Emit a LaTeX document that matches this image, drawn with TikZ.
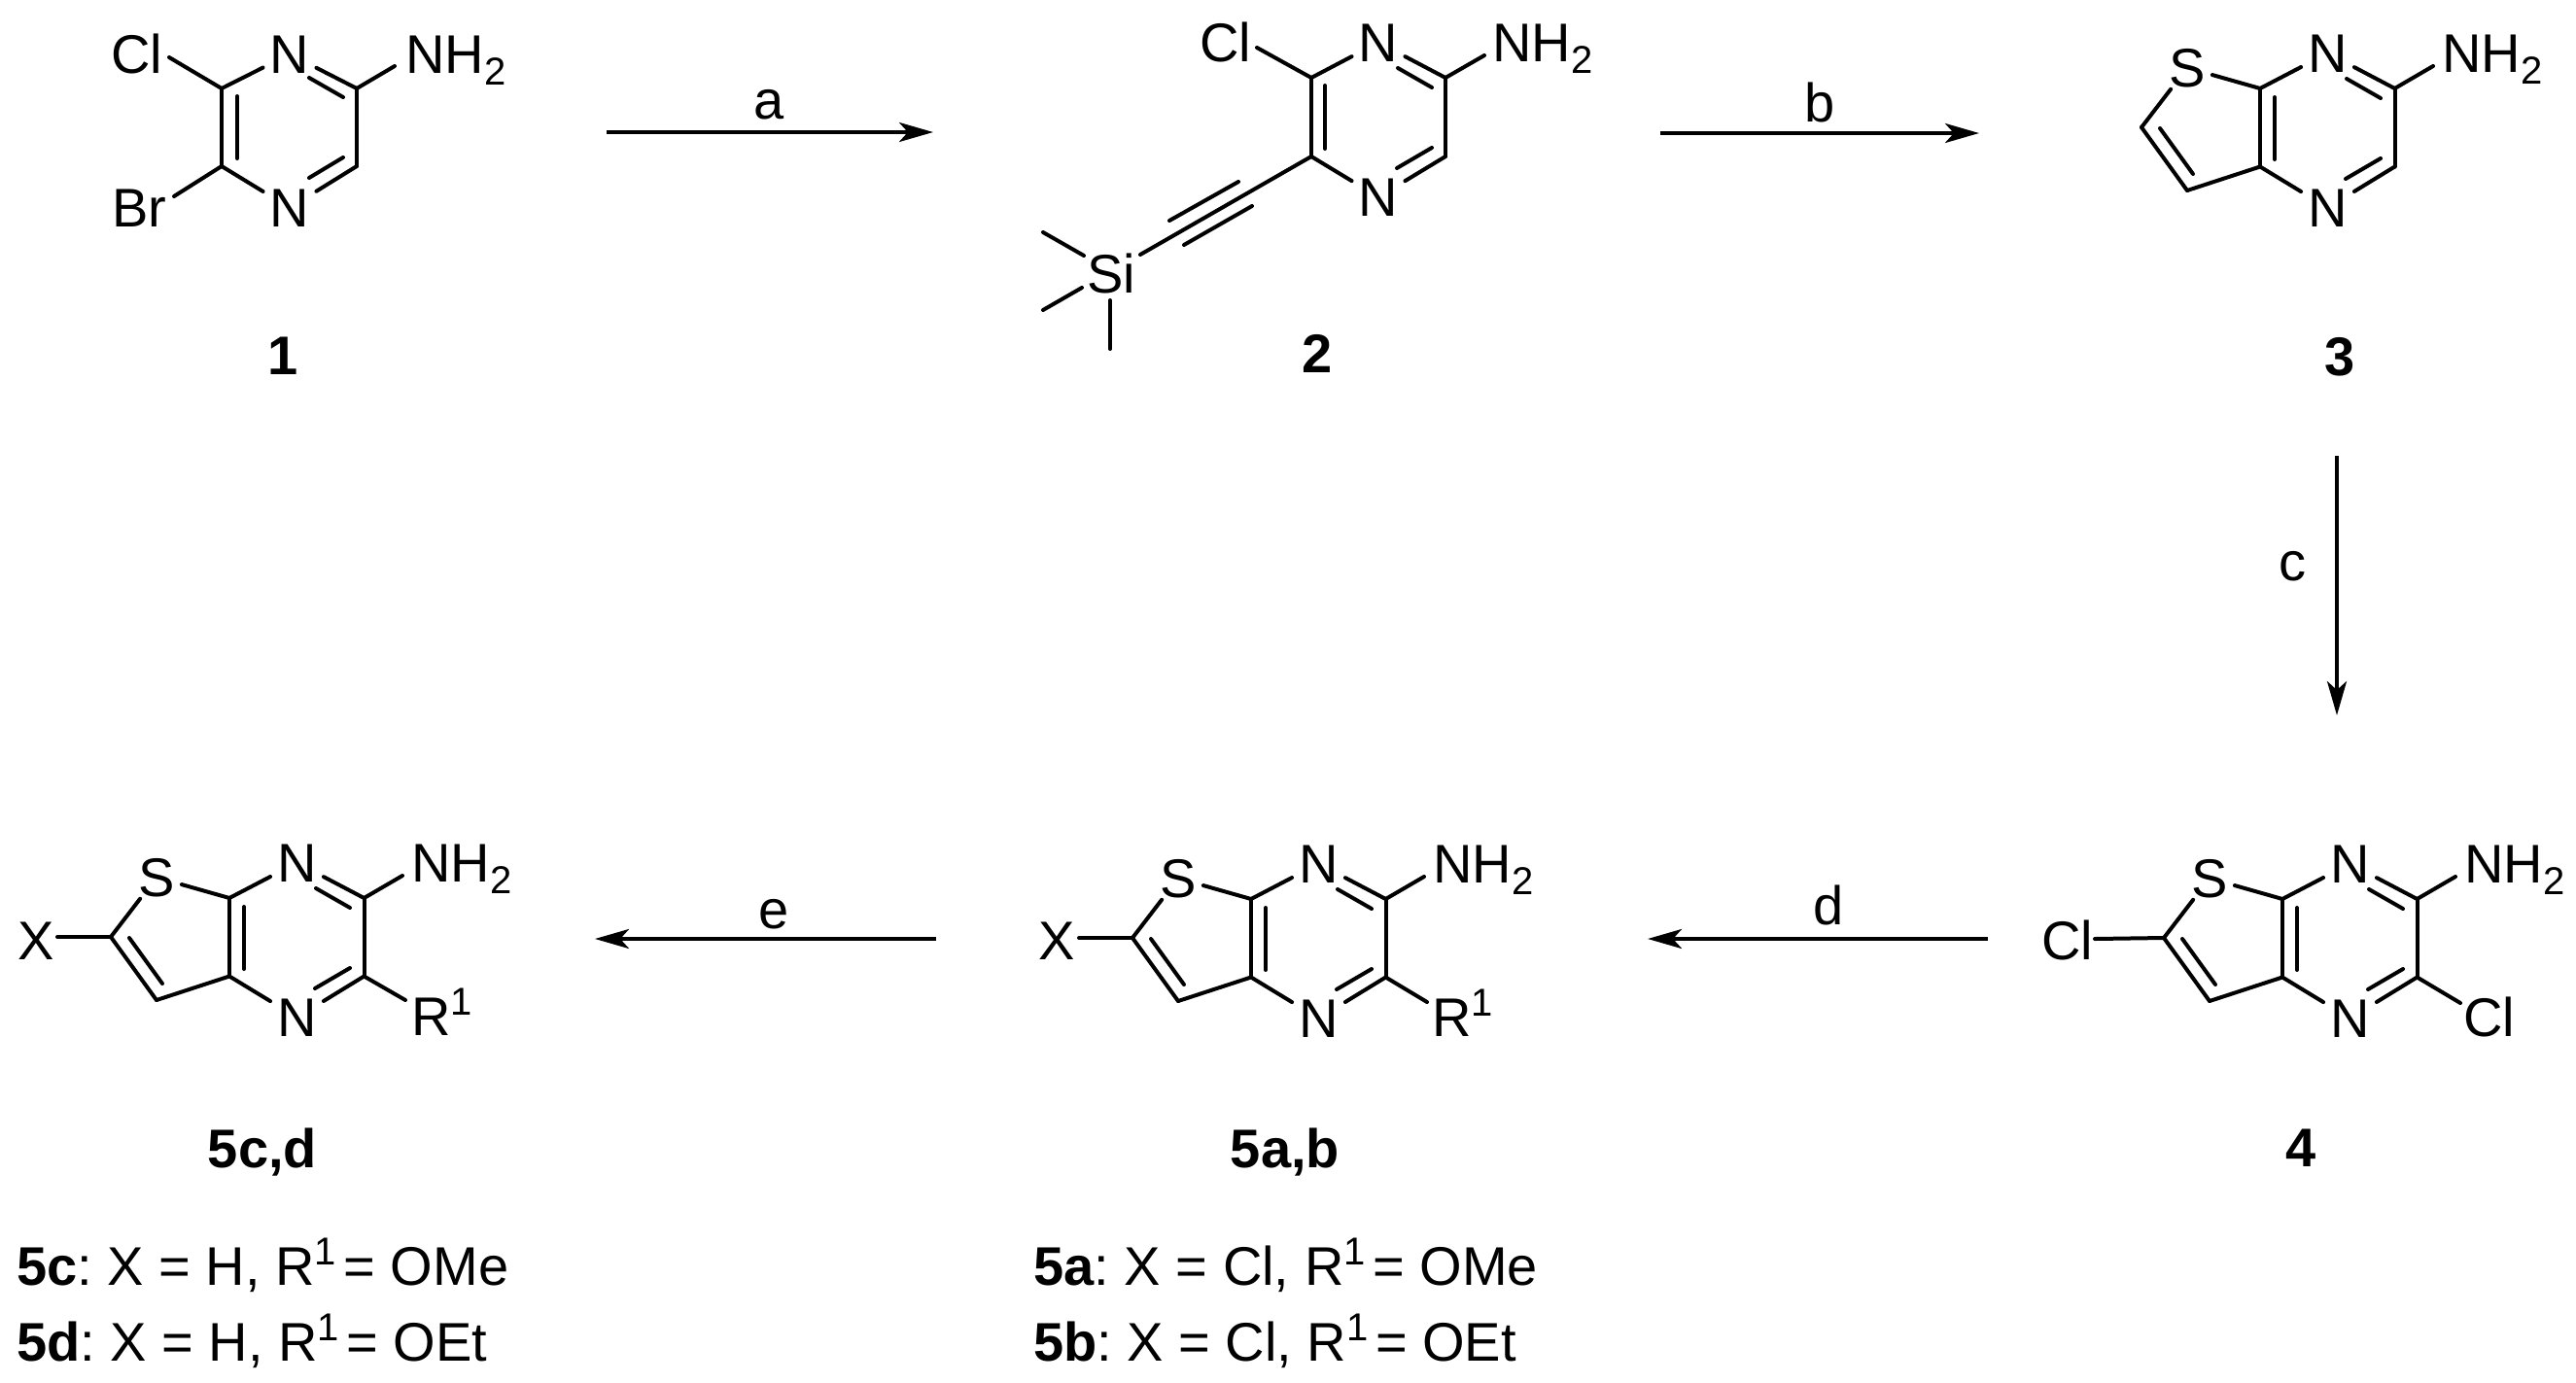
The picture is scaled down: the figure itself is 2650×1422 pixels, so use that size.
\documentclass[tikz,border=0pt]{standalone}
\usepackage{fontspec}
\setmainfont{Liberation Sans}
\usetikzlibrary{arrows.meta}
\AtBeginDocument{\frenchspacing}
\newcommand{\lsub}[1]{\raisebox{-12pt}{\fontsize{40}{40}\selectfont #1}}
\newcommand{\lsup}[1]{\raisebox{21pt}{\fontsize{40}{40}\selectfont #1}\hspace{-8pt}}
\tikzset{
  bond/.style={line width=4pt,line cap=round,line join=round,black},
  rxn/.style={line width=4pt,black,-{Stealth[length=35pt,width=20pt,inset=9pt]}},
  atom/.style={font=\fontsize{56}{60}\selectfont,anchor=base,inner xsep=7pt,inner ysep=2pt},
  atoml/.style={font=\fontsize{56}{60}\selectfont,anchor=base west,inner sep=0pt},
  cmpd/.style={font=\bfseries\fontsize{56}{60}\selectfont,anchor=base,inner sep=0pt},
  cmpdl/.style={font=\fontsize{56}{60}\selectfont,anchor=base west,inner sep=0pt},
  cond/.style={font=\fontsize{56}{60}\selectfont,anchor=base,inner sep=0pt},
}
% thieno[2,3-b]pyrazine core; origin at C7a
\newcommand{\thienocore}[3]{%
\begin{scope}[shift={(#2,#3)}]
  \coordinate (#1a) at (0,0);
  \coordinate (#1b) at (138.5,0);
  \coordinate (#1c) at (138.5,80.5);
  \coordinate (#1d) at (0,80.5);
  \coordinate (#1e) at (-122,40);
  \coordinate (#1f) at (-75,105);
  \coordinate (#1q) at (178,-23);
  \coordinate (#1u1) at (89,-10);
  \coordinate (#1u2) at (124,10);
  \coordinate (#1v1) at (88,93);
  \coordinate (#1v2) at (124,72);
  \coordinate (#1w1) at (15,9);
  \coordinate (#1w2) at (15,73);
  \coordinate (#1t1) at (-103,41);
  \coordinate (#1t2) at (-69,88);
  \node[atom] (#1N) at (69.5,-17) {N};
  \node[atom] (#1M) at (69.5,142) {N};
  \node[atom] (#1S) at (-75,-2) {S};
  \node[atoml] (#1A) at (187,-17) {NH\lsub{2}};
  \draw[bond] (#1a) -- (#1N);
  \draw[bond] (#1N) -- (#1b);
  \draw[bond] (#1u1) -- (#1u2);
  \draw[bond] (#1b) -- (#1c);
  \draw[bond] (#1c) -- (#1M);
  \draw[bond] (#1v1) -- (#1v2);
  \draw[bond] (#1M) -- (#1d);
  \draw[bond] (#1d) -- (#1a);
  \draw[bond] (#1w1) -- (#1w2);
  \draw[bond] (#1a) -- (#1S);
  \draw[bond] (#1S) -- (#1e);
  \draw[bond] (#1e) -- (#1f);
  \draw[bond] (#1t1) -- (#1t2);
  \draw[bond] (#1f) -- (#1d);
  \draw[bond] (#1b) -- (#1q);
\end{scope}}
\begin{document}
\begin{tikzpicture}[x=1pt,y=-1pt]
\useasboundingbox (0,0) rectangle (2650,1422);
\fill[white] (0,0) rectangle (2650,1422);

% --- compound 1
\coordinate (ua) at (228,91);
\coordinate (ub) at (367,91);
\coordinate (uc) at (367,171);
\coordinate (ud) at (228,171);
\coordinate (ucl) at (174,59);
\coordinate (ubr) at (179,202);
\coordinate (unh) at (406,68);
\coordinate (uu1) at (318,80);
\coordinate (uu2) at (353,100);
\coordinate (uv1) at (318,183);
\coordinate (uv2) at (353,162);
\coordinate (uw1) at (244,99);
\coordinate (uw2) at (244,163);
\node[atom] (uN) at (298,75) {N};
\node[atom] (uM) at (298,233) {N};
\node[atoml] (uCl) at (114,75) {Cl};
\node[atoml] (uBr) at (115,233) {Br};
\node[atoml] (uA) at (417,75) {NH\lsub{2}};
\draw[bond] (ua) -- (uN);
\draw[bond] (uN) -- (ub);
\draw[bond] (uu1) -- (uu2);
\draw[bond] (ub) -- (uc);
\draw[bond] (uc) -- (uM);
\draw[bond] (uv1) -- (uv2);
\draw[bond] (uM) -- (ud);
\draw[bond] (ud) -- (ua);
\draw[bond] (uw1) -- (uw2);
\draw[bond] (ua) -- (ucl);
\draw[bond] (ud) -- (ubr);
\draw[bond] (ub) -- (unh);
\node[cmpd] (l1) at (291,385) {1};

% --- compound 2
\coordinate (va) at (1349,80);
\coordinate (vb) at (1487,80);
\coordinate (vc) at (1487,161);
\coordinate (vd) at (1349,161);
\coordinate (vcl) at (1293,49);
\coordinate (vnh) at (1527,57);
\coordinate (vt) at (1173,262);
\coordinate (vu1) at (1438,70);
\coordinate (vu2) at (1473,90);
\coordinate (vv1) at (1437,173);
\coordinate (vv2) at (1473,152);
\coordinate (vw1) at (1363,88);
\coordinate (vw2) at (1363,153);
\coordinate (vy1) at (1274,187);
\coordinate (vy2) at (1203,227);
\coordinate (vz1) at (1288,212);
\coordinate (vz2) at (1218,252);
\node[atom] (vN) at (1418,63) {N};
\node[atom] (vM) at (1418,222) {N};
\node[atoml] (vCl) at (1234,63) {Cl};
\node[atoml] (vA) at (1535,63) {NH\lsub{2}};
\node[atoml] (vSi) at (1118,301) {Si};
\coordinate (vm1s) at (1115,263);
\coordinate (vm1) at (1073,239);
\coordinate (vm2s) at (1113,296);
\coordinate (vm2) at (1073,319);
\coordinate (vm3s) at (1142,309);
\coordinate (vm3) at (1142,359);
\draw[bond] (va) -- (vN);
\draw[bond] (vN) -- (vb);
\draw[bond] (vu1) -- (vu2);
\draw[bond] (vb) -- (vc);
\draw[bond] (vc) -- (vM);
\draw[bond] (vv1) -- (vv2);
\draw[bond] (vM) -- (vd);
\draw[bond] (vd) -- (va);
\draw[bond] (vw1) -- (vw2);
\draw[bond] (va) -- (vcl);
\draw[bond] (vb) -- (vnh);
\draw[bond] (vd) -- (vt);
\draw[bond] (vy1) -- (vy2);
\draw[bond] (vz1) -- (vz2);
\draw[bond] (vm1s) -- (vm1);
\draw[bond] (vm2s) -- (vm2);
\draw[bond] (vm3s) -- (vm3);
\node[cmpd] (l2) at (1355,383) {2};

% --- compound 3
\thienocore{p}{2325}{91}
\node[cmpd] (l3) at (2407,386) {3};

% --- compound 4
\thienocore{r}{2348}{925}
\coordinate (rx) at (2155,966);
\coordinate (ry) at (2531,1032);
\node[atoml] (rCl) at (2100,987) {Cl};
\node[atoml] (rCm) at (2534,1066) {Cl};
\draw[bond] (re) -- (rx);
\draw[bond] (rc) -- (ry);
\node[cmpd] (l4) at (2367,1200) {4};

% --- compound 5a,b
\thienocore{s}{1287}{925}
\coordinate (sx) at (1110,965);
\coordinate (sy) at (1468,1031);
\node[atoml] (sX) at (1068,987) {X};
\node[atoml] (sR) at (1473,1066) {R\lsup{1}};
\draw[bond] (se) -- (sx);
\draw[bond] (sc) -- (sy);
\node[cmpd] (l5ab) at (1322,1201) {5a,b};
\node[cmpdl] (t5a) at (1063,1322) {\textbf{5a}: X = Cl, R\lsup{1} = OMe};
\node[cmpdl] (t5b) at (1063,1400) {\textbf{5b}: X = Cl, R\lsup{1} = OEt};

% --- compound 5c,d
\thienocore{w}{236}{924}
\coordinate (wx) at (59,964);
\coordinate (wy) at (417,1029);
\node[atoml] (wX) at (18,987) {X};
\node[atoml] (wR) at (423,1065) {R\lsup{1}};
\draw[bond] (we) -- (wx);
\draw[bond] (wc) -- (wy);
\node[cmpd] (l5cd) at (270,1201) {5c,d};
\node[cmpdl] (t5c) at (17,1322) {\textbf{5c}: X = H, R\lsup{1} = OMe};
\node[cmpdl] (t5d) at (17,1400) {\textbf{5d}: X = H, R\lsup{1} = OEt};

% --- reaction arrows
\coordinate (a1) at (624,136); \coordinate (a2) at (960,136);
\coordinate (b1) at (1708,137); \coordinate (b2) at (2036,137);
\coordinate (c1) at (2404,469); \coordinate (c2) at (2404,736);
\coordinate (d1) at (2045,966); \coordinate (d2) at (1695,966);
\coordinate (e1) at (963,966); \coordinate (e2) at (612,966);
\draw[rxn] (a1) -- (a2);
\draw[rxn] (b1) -- (b2);
\draw[rxn] (c1) -- (c2);
\draw[rxn] (d1) -- (d2);
\draw[rxn] (e1) -- (e2);
\node[cond] (ca) at (791,122) {a};
\node[cond] (cb) at (1872,125) {b};
\node[cond] (cc) at (2358,597) {c};
\node[cond] (cd) at (1881,951) {d};
\node[cond] (ce) at (796,955) {e};
\end{tikzpicture}
\end{document}
